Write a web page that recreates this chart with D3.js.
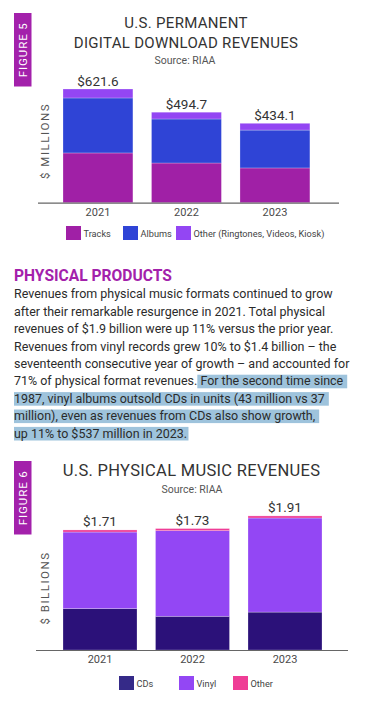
<!DOCTYPE html>
<html>
<head>
<meta charset="utf-8">
<script src="https://cdn.jsdelivr.net/npm/d3@7"></script>
<style>
  html, body { margin: 0; padding: 0; background: #fff; }
  svg { display: block; font-family: Roboto, "Noto Sans", sans-serif; }
</style>
</head>
<body>
<svg id="chart" width="367" height="706"></svg>
<script>
// ---------- DATA ----------
const years = ["2021", "2022", "2023"];
// Figure 5: digital download revenues ($ millions)
const dlTracks = [272, 217, 190];
const dlAlbums = [300.6, 240.7, 207.1];
const dlOther = [49, 37, 37];
const dlTotals = ["$621.6", "$494.7", "$434.1"];
const dlSeries = ["Tracks", "Albums", "Other (Ringtones, Videos, Kiosk)"];
// Figure 6: physical music revenues ($ billions)
const phCDs = [0.59, 0.48, 0.54];
const phVinyl = [1.09, 1.22, 1.34];
const phOther = [0.03, 0.03, 0.03];
const phTotals = ["$1.71", "$1.73", "$1.91"];
const phSeries = ["CDs", "Vinyl", "Other"];
// Body text
const heading = "PHYSICAL PRODUCTS";
const paragraph = [
  [["Revenues from physical music formats continued to grow", false]],
  [["after their remarkable resurgence in 2021. Total physical", false]],
  [["revenues of $1.9 billion were up 11% versus the prior year.", false]],
  [["Revenues from vinyl records grew 10% to $1.4 billion – the", false]],
  [["seventeenth consecutive year of growth – and accounted for", false]],
  [["71% of physical format revenues.", false], [" For the second time since", true]],
  [["1987, vinyl albums outsold CDs in units (43 million vs 37", true]],
  [["million), even as revenues from CDs also show growth,", true]],
  [["up 11% to $537 million in 2023.", true]]
];

// ---------- STYLE ----------
const magenta = "#a321ab";
const dlColors = ["#a020a6", "#2f44d6", "#9346f3"];
const phColors = ["#2b1179", "#9347f4", "#ef3d96"];
const phLegendColors = ["#352a88", "#9347f4", "#ef3d96"];
const textCol = "#333";

const svg = d3.select("#chart");

function badge(y, h, label) {
  svg.append("rect").attr("x", 14).attr("y", y).attr("width", 17.5).attr("height", h).attr("fill", magenta);
  svg.append("text")
    .attr("transform", `translate(${14 + 8.75 + 4},${y + h / 2}) rotate(-90)`)
    .attr("text-anchor", "middle")
    .attr("fill", "#fff").attr("font-size", 11.5).attr("font-weight", 400)
    .attr("letter-spacing", 0.9)
    .text(label);
}

function stackedChart(cfg) {
  const x = d3.scaleBand().domain(years).range(cfg.xRange).paddingInner(cfg.pi).paddingOuter(0.1);
  const y = d3.scaleLinear().domain(cfg.yDomain).range(cfg.yRange);
  const rows = years.map((yr, i) => {
    const o = { year: yr };
    cfg.keys.forEach((k, j) => o[k] = cfg.values[j][i]);
    return o;
  });
  const stack = d3.stack().keys(cfg.keys)(rows);
  const g = svg.append("g");
  g.selectAll("g.layer").data(stack).join("g")
    .attr("fill", (d, i) => cfg.colors[i])
    .selectAll("rect").data(d => d).join("rect")
    .attr("x", d => x(d.data.year))
    .attr("y", d => y(d[1]))
    .attr("width", x.bandwidth())
    .attr("height", d => y(d[0]) - y(d[1]))
    .attr("stroke", "rgba(255,255,255,0.35)").attr("stroke-width", 0.7);
  // totals
  const tops = years.map((yr, i) => d3.sum(cfg.values, v => v[i]));
  g.selectAll("text.total").data(years).join("text")
    .attr("x", d => x(d) + x.bandwidth() / 2)
    .attr("y", (d, i) => y(tops[i]) - 3.5)
    .attr("text-anchor", "middle").attr("font-size", 13.5).attr("fill", textCol)
    .text((d, i) => cfg.totals[i]);
  // baseline
  svg.append("line").attr("x1", cfg.axisX[0]).attr("x2", cfg.axisX[1])
    .attr("y1", y(0) + 0.5).attr("y2", y(0) + 0.5)
    .attr("stroke", "#666").attr("stroke-width", 1.2);
  // x axis labels
  const ax = svg.append("g").attr("transform", `translate(0,${y(0)})`)
    .call(d3.axisBottom(x).tickSize(0).tickPadding(cfg.tickPad));
  ax.select(".domain").remove();
  ax.selectAll("text").attr("font-size", 11).attr("fill", "#4a4a4a").attr("font-family", "Roboto, sans-serif");
  // y label
  svg.append("text")
    .attr("transform", `translate(49,${cfg.yLabelY}) rotate(-90)`)
    .attr("text-anchor", "middle").attr("font-size", 11.5).attr("fill", "#555")
    .attr("letter-spacing", 1.5).text(cfg.yLabel);
  // legend
  const lg = svg.append("g");
  cfg.legendX.forEach((lx, i) => {
    lg.append("rect").attr("x", lx).attr("y", cfg.legendY).attr("width", 15).attr("height", 14)
      .attr("fill", cfg.legendColors[i]);
    lg.append("text").attr("x", lx + 17.5).attr("y", cfg.legendY + 10.5)
      .attr("font-size", 9.2).attr("fill", "#444").text(cfg.keys[i]);
  });
}

// ---------- FIGURE 5 ----------
badge(13, 73.5, "FIGURE 5");
svg.append("text").attr("x", 186).attr("y", 27.5).attr("text-anchor", "middle")
  .attr("font-size", 15).attr("fill", textCol).attr("letter-spacing", 0.3).text("U.S. PERMANENT");
svg.append("text").attr("x", 186).attr("y", 47.5).attr("text-anchor", "middle")
  .attr("font-size", 15).attr("fill", textCol).attr("letter-spacing", 0.3).text("DIGITAL DOWNLOAD REVENUES");
svg.append("text").attr("x", 185).attr("y", 64).attr("text-anchor", "middle")
  .attr("font-size", 10.5).attr("fill", "#555").text("Source: RIAA");

stackedChart({
  keys: dlSeries, values: [dlTracks, dlAlbums, dlOther], totals: dlTotals,
  colors: dlColors, legendColors: dlColors,
  xRange: [54.15, 318.75], pi: 0.21,
  yDomain: [0, 700], yRange: [202.7, 202.7 - 0.1829 * 700],
  axisX: [38, 339], tickPad: 6, yLabel: "$ MILLIONS", yLabelY: 141,
  legendX: [66, 123, 176], legendY: 226
});

// ---------- TEXT ----------
svg.append("text").attr("x", 14).attr("y", 281).attr("font-size", 17).attr("font-weight", 700)
  .attr("fill", magenta).attr("id", "heading").text(heading);
// fit heading width to ~158px
(function () {
  const h = svg.select("#heading");
  const w = h.node().getComputedTextLength();
  h.attr("font-size", 17 * 158 / w);
})();

// body font size so first line spans ~319px
const probe = svg.append("text").attr("font-size", 13).text(paragraph[0][0][0]);
const bodySize = 13 * 319 / probe.node().getComputedTextLength();
probe.remove();

const hlLayer = svg.append("g");
const txtLayer = svg.append("g");
paragraph.forEach((segs, li) => {
  const base = 298.3 + li * 17.4;
  let cx = 14;
  segs.forEach(([s, hl]) => {
    const t = txtLayer.append("text").attr("x", cx).attr("y", base)
      .attr("font-size", bodySize).attr("fill", "#2b2b2b")
      .style("white-space", "pre").text(s);
    const w = t.node().getComputedTextLength();
    if (hl) {
      const pad = li === paragraph.length - 1 ? 1.5 : 4;
      hlLayer.append("rect").attr("x", cx).attr("y", base - 10.6)
        .attr("width", w + pad).attr("height", 13.6).attr("fill", "#9ec3dc");
    }
    cx += w;
  });
});

// ---------- FIGURE 6 ----------
badge(461, 73.5, "FIGURE 6");
svg.append("text").attr("x", 191.5).attr("y", 476).attr("text-anchor", "middle")
  .attr("font-size", 16.5).attr("fill", textCol).attr("letter-spacing", 0.3).text("U.S. PHYSICAL MUSIC REVENUES");
svg.append("text").attr("x", 192).attr("y", 493).attr("text-anchor", "middle")
  .attr("font-size", 10.5).attr("fill", "#555").text("Source: RIAA");

stackedChart({
  keys: phSeries, values: [phCDs, phVinyl, phOther], totals: phTotals,
  colors: phColors, legendColors: phLegendColors,
  xRange: [53.75, 331.25], pi: 0.2,
  yDomain: [0, 2], yRange: [650, 650 - 70.2 * 2],
  axisX: [36, 348], tickPad: 5.5, yLabel: "$ BILLIONS", yLabelY: 588,
  legendX: [119, 179, 233], legendY: 676
});
</script>
</body>
</html>
